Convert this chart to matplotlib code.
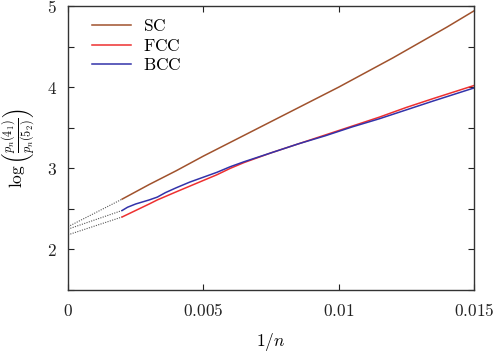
import matplotlib
matplotlib.use("Agg")
import matplotlib.pyplot as plt

plt.rcParams['mathtext.fontset'] = 'cm'
plt.rcParams['font.family'] = 'DejaVu Serif'

# data
x_sc = [0.002, 0.003, 0.004, 0.005, 0.006, 0.007, 0.008, 0.009, 0.010, 0.011, 0.012, 0.013, 0.014, 0.015]
y_sc = [2.62, 2.80, 2.97, 3.15, 3.32, 3.49, 3.66, 3.83, 4.00, 4.18, 4.36, 4.55, 4.74, 4.94]

x_fcc = [0.0020, 0.0025, 0.0030, 0.0033, 0.0040, 0.0045, 0.0050, 0.0055, 0.0060, 0.0065, 0.0075, 0.0085, 0.0095, 0.0105, 0.0115, 0.0125, 0.0135, 0.0150]
y_fcc = [2.40, 2.48, 2.56, 2.61, 2.71, 2.78, 2.85, 2.92, 3.00, 3.07, 3.19, 3.30, 3.41, 3.52, 3.63, 3.75, 3.86, 4.02]

x_bcc = [0.0020, 0.0022, 0.0025, 0.0028, 0.0030, 0.0033, 0.0036, 0.0040, 0.0045, 0.0050, 0.0055, 0.0060, 0.0065, 0.0075, 0.0085, 0.0095, 0.0105, 0.0115, 0.0125, 0.0135, 0.0150]
y_bcc = [2.48, 2.52, 2.56, 2.59, 2.61, 2.645, 2.70, 2.76, 2.83, 2.89, 2.95, 3.02, 3.08, 3.19, 3.30, 3.40, 3.51, 3.61, 3.72, 3.83, 3.99]

# extrapolation to 1/n = 0
x_ext = [0.0, 0.0020]
y_ext_sc = [2.28, 2.62]
y_ext_bcc = [2.25, 2.48]
y_ext_fcc = [2.18, 2.40]

fig = plt.figure(figsize=(4.95, 3.54), dpi=100)
ax = fig.add_axes([68/495, 64/354, (474-68)/495, (290-6)/354])

c_sc = '#a0522d'
c_fcc = '#ee3030'
c_bcc = '#3333aa'

for ye in (y_ext_sc, y_ext_bcc, y_ext_fcc):
    ax.plot(x_ext, ye, color='#555555', lw=0.8, ls=(0, (1, 1.2)))

ax.plot(x_sc, y_sc, color=c_sc, lw=1.1, label=r'$\mathrm{SC}$')
ax.plot(x_fcc, y_fcc, color=c_fcc, lw=1.1, label=r'$\mathrm{FCC}$')
ax.plot(x_bcc, y_bcc, color=c_bcc, lw=1.1, label=r'$\mathrm{BCC}$')

ax.set_xlim(0, 0.015)
ax.set_ylim(1.5, 5.0)

xt = [0, 0.005, 0.01, 0.015]
xtl = [r'$0$', r'$0.005$', r'$0.01$', r'$0.015$']
ax.set_xticks(xt)
ax.set_xticklabels(xtl)
yt = [1.5, 2, 2.5, 3, 3.5, 4, 4.5, 5]
ax.set_yticks(yt)
ax.set_yticklabels(['' if v % 1 else r'$%d$' % v for v in yt])

ax.tick_params(direction='in', length=4, width=0.8, top=True, right=True, labelsize=12.5, pad=8, colors='#222222')
ax.tick_params(axis='x', pad=9)
for s in ax.spines.values():
    s.set_linewidth(1.0)
    s.set_color('#333333')

ax.set_xlabel(r'$1/n$', fontsize=12.5, labelpad=8)
ax.set_ylabel(r'$\log\left(\frac{p_n(4_1)}{p_n(5_2)}\right)$', fontsize=12.5, labelpad=6)

leg = ax.legend(loc='upper left', frameon=False, fontsize=12.5, handlelength=2.2,
                handletextpad=0.7, labelspacing=0.15, borderaxespad=0.3,
                bbox_to_anchor=(0.03, 1.0))

fig.savefig('out.png', dpi=100)
